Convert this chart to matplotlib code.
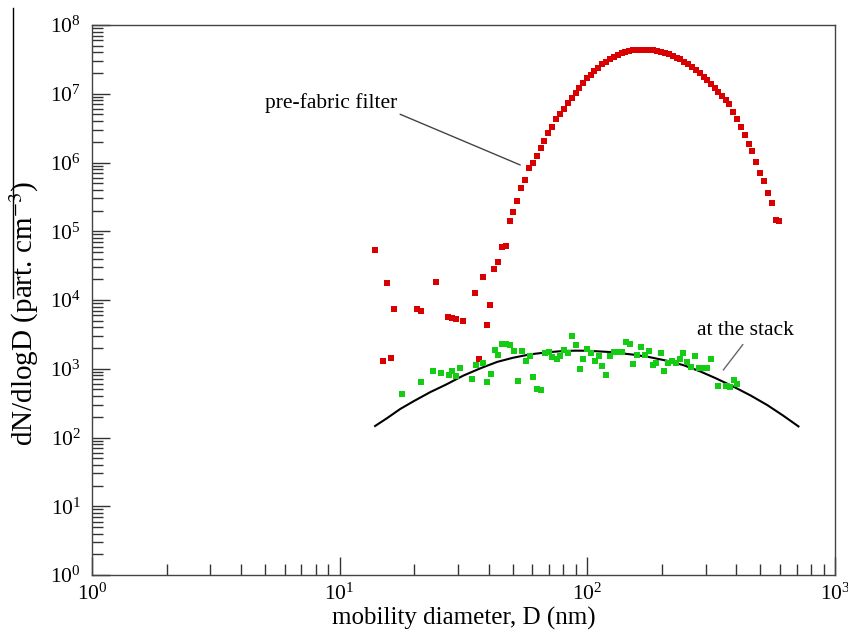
import matplotlib
matplotlib.use("Agg")
import matplotlib.pyplot as plt
from matplotlib.lines import Line2D
from matplotlib.ticker import LogLocator, LogFormatterSciNotation, NullFormatter

plt.rcParams['font.family'] = ['Liberation Serif', 'DejaVu Serif']
plt.rcParams['mathtext.fontset'] = 'stix'

# pre-fabric filter (red squares)
red_d = [13.9, 15.0, 15.6, 16.1, 16.6, 20.6, 21.3, 24.5, 27.4, 28.5, 29.6, 31.5,
         35.3, 36.6, 38.0, 39.4, 40.6, 42.1, 43.7, 45.4, 47.1, 48.9, 50.2, 52.1,
         54.1, 56.2, 58.3, 60.5, 62.8, 65.2, 67.0, 69.6, 72.2, 74.9, 77.8, 80.7,
         83.8, 87.0, 90.3, 92.8, 96.3, 100, 103.8, 106.7, 110.8, 115, 119.4, 123.9,
         128.6, 133.4, 138.5, 142.4, 147.8, 153.5, 159.2, 165.3, 171.5, 178.1, 184.8, 191.8,
         199.1, 206.7, 214.5, 222.6, 231.0, 237.6, 246.6, 255.9, 265.6, 275.6, 286.1, 296.9,
         305.3, 316.9, 329, 338.2, 351.2, 364.4, 374.8, 388.9, 403.6, 419.0, 434.9, 451.3,
         464.2, 481.8, 500, 519, 538.6, 559, 580, 596.9]
red_n = [5.34e4, 1.30e3, 1.77e4, 1.43e3, 7.4e3, 7.4e3, 6.9e3, 1.83e4, 5.66e3, 5.47e3, 5.29e3, 4.95e3,
         1.26e4, 1.39e3, 2.16e4, 4.33e3, 8.46e3, 2.82e4, 3.57e4, 5.9e4, 6.1e4, 1.41e5, 1.91e5, 2.75e5,
         4.26e5, 5.56e5, 8.3e5, 9.8e5, 1.24e6, 1.62e6, 2.06e6, 2.69e6, 3.28e6, 4.3e6, 5.07e6, 6.0e6,
         7.3e6, 8.7e6, 1.03e7, 1.21e7, 1.43e7, 1.70e7, 1.87e7, 2.14e7, 2.37e7, 2.71e7, 2.90e7, 3.2e7,
         3.43e7, 3.66e7, 3.92e7, 4.05e7, 4.19e7, 4.33e7, 4.33e7, 4.35e7, 4.35e7, 4.33e7, 4.3e7, 4.19e7,
         4.05e7, 3.92e7, 3.79e7, 3.54e7, 3.31e7, 3.2e7, 2.9e7, 2.71e7, 2.45e7, 2.21e7, 2.0e7, 1.75e7,
         1.58e7, 1.39e7, 1.22e7, 1.06e7, 9.3e6, 8.1e6, 7.1e6, 5.43e6, 4.3e6, 3.28e6, 2.51e6, 1.86e6,
         1.47e6, 1.02e6, 7.03e5, 5.38e5, 3.6e5, 2.58e5, 1.46e5, 1.41e5]

# at the stack (green squares)
green_d = [17.84, 21.4, 23.76, 25.59, 27.52, 28.54, 29.61, 30.68, 34.08, 35.38, 38.0, 39.45,
           40.82, 42.3, 43.77, 45.36, 47.07, 48.86, 50.56, 52.30, 54.37, 56.32, 58.48, 60.52,
           62.64, 64.7, 67.22, 69.76, 72.2, 75.08, 77.8, 80.6, 83.56, 86.74, 89.68, 93.0,
           96.34, 100, 103.6, 107.0, 111.0, 115.1, 119.5, 123.9, 128.3, 133.2, 137.9, 143.2,
           148.1, 153.5, 159.2, 165.3, 171.1, 177.6, 183.5, 190.0, 197.8, 204.7, 211.9, 219.9,
           228.2, 236.0, 244.3, 252.8, 262.4, 272.4, 282.7, 293.4, 303.4, 314.9, 338.2, 363.4,
           377.2, 390.1, 403.6]
green_n = [429, 635, 937, 876, 811, 934, 779, 1039, 702, 1134, 1225, 637,
           828, 1905, 1607, 2314, 2291, 2230, 1830, 670, 1824, 1288, 1558, 754,
           502, 499, 1712, 1770, 1507, 1372, 1517, 1874, 1706, 2995, 2230, 1002,
           1372, 1957, 1677, 1305, 1543, 1089, 822, 1548, 1770, 1764, 1741, 2417,
           2298, 1172, 1585, 2093, 1585, 1813, 1122, 1212, 1677, 918, 1200, 1296,
           1200, 1372, 1712, 1241, 1050, 1533, 1036, 1036, 1025, 1400, 556, 556,
           537, 686, 606]

# fitted curve (black line)
fit_d = [13.9, 15.5, 17.56, 19.95, 23.21, 26.9, 31.55, 37.2, 43.28, 50.1, 58.85, 69.2,
         80.0, 89.1, 100, 123.9, 153.5, 177.8, 210.5, 245.5, 286.1, 331, 388.9, 457,
         533.8, 616.6, 712]
fit_n = [147, 190, 260, 339, 457, 589, 794, 1023, 1259, 1445, 1622, 1738,
         1811, 1832, 1828, 1750, 1603, 1479, 1303, 1122, 912, 724, 550, 407,
         295, 209, 145]

W, H = 848, 637
fig = plt.figure(figsize=(W / 100, H / 100), dpi=100)
ax = fig.add_axes([92 / W, 1 - 575 / H, (835 - 92) / W, (575 - 25) / H])

ax.plot(fit_d, fit_n, color='black', lw=1.5, zorder=2, solid_joinstyle='round')
ax.plot(red_d, red_n, 's', color='#d80000', ms=5, mew=0, zorder=3)
ax.plot(green_d, green_n, 's', color='#14cc14', ms=5, mew=0, zorder=3)

ax.set_xscale('log')
ax.set_yscale('log')
ax.set_xlim(1, 1000)
ax.set_ylim(1, 1e8)

ax.xaxis.set_major_locator(LogLocator(base=10, numticks=10))
ax.yaxis.set_major_locator(LogLocator(base=10, numticks=20))
ax.xaxis.set_minor_locator(LogLocator(base=10, subs=range(2, 10), numticks=20))
ax.yaxis.set_minor_locator(LogLocator(base=10, subs=range(2, 10), numticks=40))
ax.xaxis.set_major_formatter(LogFormatterSciNotation())
ax.yaxis.set_major_formatter(LogFormatterSciNotation())
ax.xaxis.set_minor_formatter(NullFormatter())
ax.yaxis.set_minor_formatter(NullFormatter())

ax.tick_params(which='both', direction='in', top=False, right=False,
               color='#333333', width=1.0, labelsize=15.5, labelcolor='black')
ax.tick_params(which='major', length=13, pad=6)
ax.tick_params(which='minor', length=8)
ax.tick_params(axis='y', which='major', pad=8)

for s in ax.spines.values():
    s.set_color('#444444')
    s.set_linewidth(1.0)

ax.set_xlabel('mobility diameter, D (nm)', fontsize=18, labelpad=2)
ax.set_ylabel('dN/dlogD (part. cm$^{-3}$)', fontsize=21)
ax.yaxis.set_label_coords(-0.068, 0.475)

# annotations
ax.annotate('pre-fabric filter', xy=(53.6, 9.2e5), xytext=(5.0, 7.3e6),
            fontsize=15.5, ha='left', va='center',
            arrowprops=dict(arrowstyle='-', color='#444444', lw=1.0,
                            shrinkA=0, shrinkB=0, relpos=(1.0, 0.0)))
ax.annotate('at the stack', xy=(354, 959), xytext=(278, 3.66e3),
            fontsize=15.5, ha='left', va='center',
            arrowprops=dict(arrowstyle='-', color='#666666', lw=1.0,
                            shrinkA=2, shrinkB=0, relpos=(0.51, 0.0)))

# stray bar next to the y label
fig.add_artist(Line2D([13 / W, 13 / W], [1 - 8 / H, 1 - 298 / H], color='black', lw=1.0))

fig.savefig('out.png', dpi=100)
